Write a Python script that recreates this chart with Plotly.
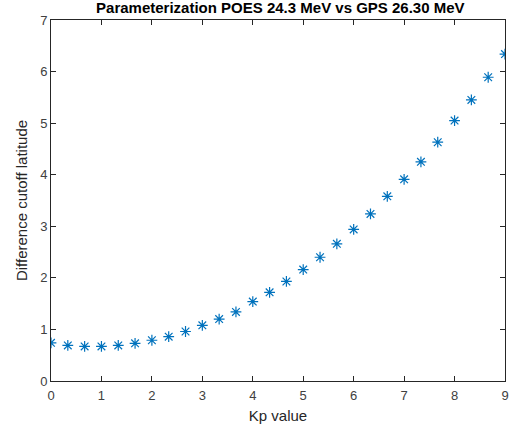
import plotly.graph_objects as go

# Kp values in steps of 1/3 from 0 to 9
kp = [i / 3 for i in range(28)]
diff_lat = [0.74, 0.69, 0.67, 0.67, 0.69, 0.73, 0.79, 0.86, 0.96, 1.08,
            1.20, 1.34, 1.54, 1.72, 1.93, 2.16, 2.40, 2.66, 2.94, 3.24,
            3.58, 3.91, 4.25, 4.63, 5.05, 5.45, 5.89, 6.34]
x_ticks = list(range(10))
y_ticks = list(range(8))

axis_color = "#262626"
font_family = "Liberation Sans, Arial, Helvetica, sans-serif"

fig = go.Figure()
fig.add_trace(go.Scatter(
    x=kp, y=diff_lat, mode="markers",
    marker=dict(symbol="asterisk-open", size=9, color="#0072BD",
                line=dict(color="#0072BD", width=1.2)),
    showlegend=False,
))

axis_common = dict(
    showgrid=False, zeroline=False, showline=True, linecolor=axis_color,
    linewidth=1, mirror="ticks", ticks="inside", ticklen=5, tickwidth=1,
    tickcolor=axis_color,
    tickfont=dict(size=13, color="#404040", family=font_family),
)

fig.update_layout(
    width=521, height=434,
    margin=dict(l=51, r=13, t=20, b=53),
    paper_bgcolor="white", plot_bgcolor="white",
    font=dict(family=font_family, color=axis_color),
    title=dict(text="<b>Parameterization POES 24.3 MeV vs GPS 26.30 MeV</b>",
               x=0.538, xanchor="center", y=0.982, yanchor="middle",
               font=dict(size=15, color="black", family=font_family)),
    xaxis=dict(range=[0, 9], tickvals=x_ticks, ticklabelstandoff=2,
               title=dict(text="Kp value", standoff=8,
                          font=dict(size=15, color=axis_color)),
               **axis_common),
    yaxis=dict(range=[0, 7], tickvals=y_ticks,
               title=dict(text="Difference cutoff latitude", standoff=8,
                          font=dict(size=15, color=axis_color)),
               **axis_common),
)

fig.write_html("out.html")
